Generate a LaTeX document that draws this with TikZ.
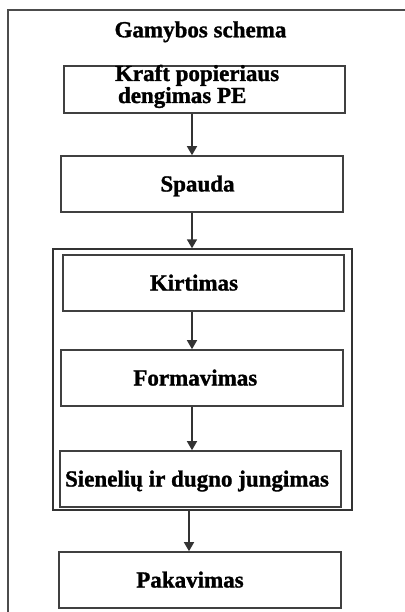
\documentclass[tikz,border=0pt]{standalone}
\usepackage{fontspec}
\setmainfont{Liberation Serif}[BoldFeatures={FakeBold=1.2}]
\usetikzlibrary{arrows.meta}
% shift a single line of text to the left inside its box
\newcommand\shl[2]{\hbox{\kern-#1\relax#2\kern#1\relax}}
\begin{document}
\begin{tikzpicture}[x=1pt,y=-1pt,
  frame/.style={draw=black!70, line width=1.4pt},
  stepbox/.style={draw=black!75, line width=1.6pt, inner sep=0pt,
    minimum height=56pt, text height=15pt, text depth=0pt,
    font=\fontsize{23}{22}\selectfont\bfseries},
  grpbox/.style={draw=black!80, line width=1.4pt, inner sep=0pt},
  arr/.style={draw=black!80, line width=1.5pt,
    -{Triangle[length=9pt,width=10pt]}},
  ttl/.style={font=\fontsize{23}{22}\selectfont\bfseries, inner sep=0pt}
]
\useasboundingbox (0,0) rectangle (404,612);

% outer frame (runs off the page to the right and below)
\draw[frame] (8,640) -- (8,10) -- (430,10);

\node[ttl, anchor=base] (title) at (200.5,37.3) {Gamybos schema};

\node[stepbox, minimum width=281pt, minimum height=47pt,
      text height=15pt, text depth=32pt] (kraft) at (204.5,89.5)
  {\vtop{\hbox to 179pt{Kraft popieriaus\hfil}\hbox to 179pt{\kern3pt dengimas PE\hfil}}};

\node[stepbox, minimum width=282pt] (spauda) at (202,184) {\shl{4.5pt}{Spauda}};

% grouped production steps
\node[grpbox, minimum width=299pt, minimum height=261pt] (group) at (202.5,379.5) {};
\node[stepbox, minimum width=281pt] (kirtimas) at (203.5,283) {\shl{9.5pt}{Kirtimas}};
\node[stepbox, minimum width=282pt] (formavimas) at (202,378) {\shl{6.7pt}{Formavimas}};
\node[stepbox, minimum width=281pt] (sien) at (200.5,479) {\shl{3.5pt}{Sienelių ir dugno jungimas}};

\node[stepbox, minimum width=282pt] (pak) at (200,580) {\shl{10pt}{Pakavimas}};

% arrow lanes
\coordinate (a1) at (192,0);
\coordinate (a5) at (189,0);

\draw[arr] (kraft.south -| a1) -- (spauda.north -| a1);
\draw[arr] (spauda.south -| a1) -- (group.north -| a1);
\draw[arr] (kirtimas.south -| a1) -- (formavimas.north -| a1);
\draw[arr] (formavimas.south -| a1) -- (sien.north -| a1);
\draw[arr] (group.south -| a5) -- (pak.north -| a5);
\end{tikzpicture}
\end{document}
